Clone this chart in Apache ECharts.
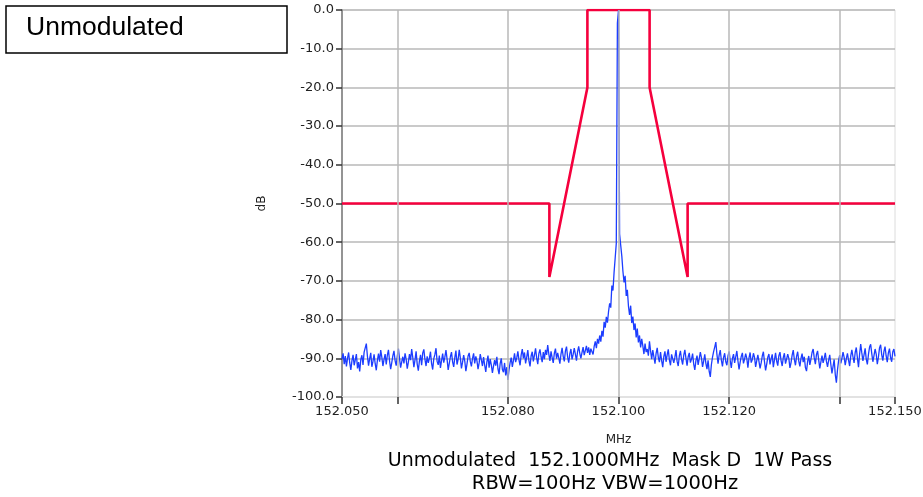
<!DOCTYPE html>
<html>
<head>
<meta charset="utf-8">
<script src="https://cdn.jsdelivr.net/npm/echarts@6/dist/echarts.min.js"></script>
<style>
html,body{margin:0;padding:0;background:#fff;}
#chart{width:923px;height:497px;}
</style>
</head>
<body>
<div id="chart"></div>
<script>
// Sweep definition (501 points, 200 Hz spacing)
const startFreq = 152.05;
const stepFreq = 0.0002;

// Measured trace (dB), left noise floor: points 0..225
const noiseLeft = [
-90.2,-88.7,-91.5,-89.4,-92.1,-90.0,-88.5,-91.2,-93.0,-90.6,-89.1,-91.8,-90.4,-88.9,-92.6,-91.0,-93.4,-90.3,-89.2,-91.7,
-88.4,-87.3,-86.2,-89.5,-91.9,-90.1,-88.6,-92.2,-90.8,-89.0,-91.4,-93.1,-90.5,-88.8,-90.9,-87.9,-89.7,-92.0,-90.3,-88.9,
-91.6,-89.2,-87.8,-90.7,-92.8,-91.1,-89.3,-88.1,-90.6,-91.9,-89.4,-87.5,-90.0,-92.4,-90.9,-89.6,-91.3,-88.7,-90.2,-92.7,
-91.0,-88.9,-90.5,-87.6,-89.8,-92.3,-90.4,-88.2,-91.5,-93.2,-90.7,-89.1,-91.8,-88.6,-87.7,-90.3,-92.0,-89.5,-91.2,-90.0,
-88.3,-91.4,-92.9,-90.1,-89.0,-87.4,-90.8,-91.7,-89.3,-92.5,-90.6,-88.8,-91.1,-89.7,-87.9,-90.2,-93.0,-91.3,-89.6,-88.4,
-90.9,-92.2,-89.8,-88.0,-91.6,-90.3,-87.8,-89.9,-92.6,-91.0,-89.2,-90.7,-93.3,-91.5,-89.4,-88.6,-90.8,-92.1,-90.0,-88.7,
-91.3,-89.5,-90.6,-92.8,-91.2,-88.9,-90.4,-92.0,-89.7,-91.8,-93.5,-90.9,-89.3,-92.4,-90.2,-91.7,-93.8,-92.0,-90.5,-91.9,
-89.6,-92.7,-94.1,-91.4,-90.0,-92.9,-93.6,-91.2,-94.4,-92.3,-95.6,-93.0,-91.1,-89.8,-92.2,-90.6,-88.7,-91.0,-89.9,-88.2,
-90.4,-91.8,-89.1,-87.6,-90.0,-88.5,-91.3,-89.7,-87.9,-90.6,-92.1,-89.4,-88.3,-90.8,-89.2,-87.4,-89.9,-91.5,-88.8,-87.7,
-89.6,-91.0,-88.4,-90.2,-87.8,-89.1,-86.6,-88.9,-90.7,-88.2,-89.8,-91.2,-88.7,-87.5,-90.1,-88.6,-89.9,-91.4,-88.9,-87.3,
-89.5,-90.8,-88.1,-87.0,-89.7,-91.1,-88.8,-87.6,-90.3,-89.0,-87.4,-88.9,-90.6,-88.3,-86.9,-88.7,-90.0,-88.5,-87.1,-89.2,
-88.0,-86.8,-88.6,-87.2,-89.1,-87.5
];
// Carrier and skirts: points 226..275
const carrier = [
-87.8,-89.0,-86.9,-85.6,-87.4,-85.0,-86.2,-84.1,-85.7,-82.9,
-84.4,-80.6,-82.1,-79.3,-80.8,-77.9,-75.8,-76.9,-71.2,-72.5,
-67.8,-64.1,-60.3,-3.4,0,-57.9,-60.8,-63.6,-67.5,-70.4,
-68.7,-73.9,-72.3,-76.5,-78.8,-76.4,-80.9,-79.2,-82.7,-81.0,
-84.6,-82.3,-85.9,-84.1,-87.2,-85.0,-86.8,-88.9,-86.2,-88.4
];
// Right noise floor: points 276..500
const noiseRight = [
-87.6,-89.3,-85.6,-88.1,-90.2,-87.9,-89.6,-91.4,-88.7,-87.3,-89.8,-91.0,-88.4,-90.6,-92.3,-89.5,-88.2,-90.9,-89.1,-87.7,
-90.4,-91.8,-89.0,-88.5,-91.2,-89.7,-87.9,-90.8,-92.0,-89.4,-88.1,-90.3,-91.6,-89.2,-87.8,-90.0,-91.9,-89.6,-88.6,-91.1,
-90.2,-88.8,-91.5,-93.0,-90.6,-89.3,-91.7,-90.1,-88.4,-89.9,-92.2,-90.7,-89.0,-91.3,-92.8,-90.5,-93.4,-94.8,-91.6,-89.7,
-88.3,-87.1,-85.8,-89.0,-91.4,-89.2,-87.9,-90.5,-92.1,-89.8,-88.7,-90.9,-91.8,-89.4,-88.2,-90.6,-92.5,-90.0,-88.9,-91.2,
-89.6,-88.1,-90.7,-92.9,-91.0,-89.5,-88.6,-91.3,-90.2,-88.8,-90.0,-92.4,-89.9,-88.5,-91.1,-90.3,-88.7,-89.8,-92.2,-90.6,
-89.1,-90.8,-92.6,-91.2,-89.4,-88.3,-90.9,-93.1,-91.5,-89.7,-88.9,-91.6,-90.1,-89.0,-92.3,-90.4,-88.6,-90.7,-91.9,-89.3,
-88.4,-90.6,-92.0,-89.8,-88.7,-91.4,-90.2,-88.9,-90.0,-92.5,-91.1,-89.2,-87.9,-90.3,-91.8,-89.5,-88.3,-90.7,-92.1,-90.0,
-88.8,-91.0,-89.6,-92.4,-93.3,-90.8,-89.4,-91.7,-90.2,-88.5,-87.6,-89.9,-91.5,-89.0,-88.1,-90.4,-92.6,-90.9,-89.3,-91.2,
-90.0,-88.6,-90.8,-92.2,-90.5,-89.1,-91.6,-93.9,-92.1,-90.3,-94.2,-96.3,-93.0,-90.6,-89.2,-91.3,-90.0,-88.4,-89.7,-91.8,
-90.1,-88.7,-90.5,-92.0,-89.4,-87.8,-89.6,-91.2,-88.5,-87.2,-89.9,-92.3,-88.9,-86.3,-88.6,-90.7,-89.1,-87.4,-90.2,-91.6,
-89.0,-87.1,-86.4,-88.8,-90.9,-89.3,-87.6,-88.9,-91.5,-89.7,-87.3,-86.5,-89.1,-90.6,-88.2,-87.0,-89.4,-91.0,-88.6,-87.5,
-89.8,-90.9,-88.3,-87.6,-89.5
];

// Emission mask D (MHz, dB)
const maskFreq = [152.05, 152.0875, 152.0875, 152.094375, 152.094375, 152.105625, 152.105625, 152.1125, 152.1125, 152.15];
const maskDb   = [-50, -50, -69, -20, 0, 0, -20, -69, -50, -50];

// Axis ticks
const xTickValues  = [152.05, 152.06, 152.08, 152.10, 152.12, 152.14, 152.15];
const xLabelValues = [152.05, 152.08, 152.10, 152.12, 152.15];
const xGridValues  = [152.06, 152.08, 152.10, 152.12, 152.14];

const traceDb = noiseLeft.concat(carrier, noiseRight);
const traceData = traceDb.map((v, i) => [startFreq + i * stepFreq, v]);
const maskData = maskFreq.map((f, i) => [f, maskDb[i]]);

const chart = echarts.init(document.getElementById('chart'), null, {renderer: 'canvas'});
const axisFont = 'DejaVu Sans';

const option = {
  animation: false,
  grid: {left: 342, right: 28, top: 10, bottom: 100, show: true, borderColor: '#dcdcdc', borderWidth: 1, containLabel: false, outerBoundsMode: 'none'},
  xAxis: {
    type: 'value', min: 152.05, max: 152.15,
    axisLine: {show: true, onZero: false, lineStyle: {color: '#e2e2e2', width: 2}},
    axisTick: {show: true, customValues: xTickValues, length: 7, lineStyle: {color: '#333', width: 1.5}},
    axisLabel: {customValues: xLabelValues, formatter: v => v.toFixed(3), fontFamily: axisFont, fontSize: 13, color: '#222', margin: 8},
    splitLine: {show: false},
    name: 'MHz', nameLocation: 'middle', nameGap: 37,
    nameTextStyle: {fontFamily: axisFont, fontSize: 12, color: '#222'}
  },
  yAxis: {
    type: 'value', min: -100, max: 0, interval: 10,
    axisLine: {show: true, onZero: false, lineStyle: {color: '#777', width: 1.5}},
    axisTick: {show: true, length: 6, lineStyle: {color: '#333', width: 1.5}},
    axisLabel: {formatter: v => v.toFixed(1), fontFamily: axisFont, fontSize: 13, color: '#222', margin: 8},
    splitLine: {show: true, showMinLine: false, lineStyle: {color: '#b8b8b8', width: 1.5}},
    name: 'dB', nameLocation: 'middle', nameRotate: 90, nameGap: 74,
    nameTextStyle: {fontFamily: axisFont, fontSize: 12, color: '#222'}
  },
  series: [
    {
      type: 'line', data: [], z: 1, silent: true,
      markLine: {
        silent: true, symbol: 'none', animation: false,
        label: {show: false},
        lineStyle: {color: '#b8b8b8', width: 1.5, type: 'solid'},
        data: xGridValues.map(v => ({xAxis: v}))
      }
    },
    {
      type: 'line', data: maskData, z: 3, showSymbol: false, silent: true,
      lineStyle: {color: '#f5003d', width: 2.6}
    },
    {
      type: 'line', data: traceData, z: 4, showSymbol: false, silent: true, sampling: null,
      lineStyle: {color: '#1c3dff', width: 1.3}
    }
  ],
  graphic: [
    {type: 'rect', shape: {x: 6, y: 6, width: 281, height: 47}, style: {fill: '#fff', stroke: '#000', lineWidth: 1.5}},
    {type: 'text', x: 26, y: 28, style: {text: 'Unmodulated', fontFamily: 'Liberation Sans', fontSize: 26.5, fill: '#000', verticalAlign: 'middle', align: 'left'}},
    {type: 'text', x: 610, y: 461, style: {text: 'Unmodulated  152.1000MHz  Mask D  1W Pass', fontFamily: axisFont, fontSize: 19, fill: '#000', align: 'center', verticalAlign: 'middle'}},
    {type: 'text', x: 605, y: 484, style: {text: 'RBW=100Hz VBW=1000Hz', fontFamily: axisFont, fontSize: 19.5, fill: '#000', align: 'center', verticalAlign: 'middle'}}
  ]
};
chart.setOption(option);
</script>
</body>
</html>
